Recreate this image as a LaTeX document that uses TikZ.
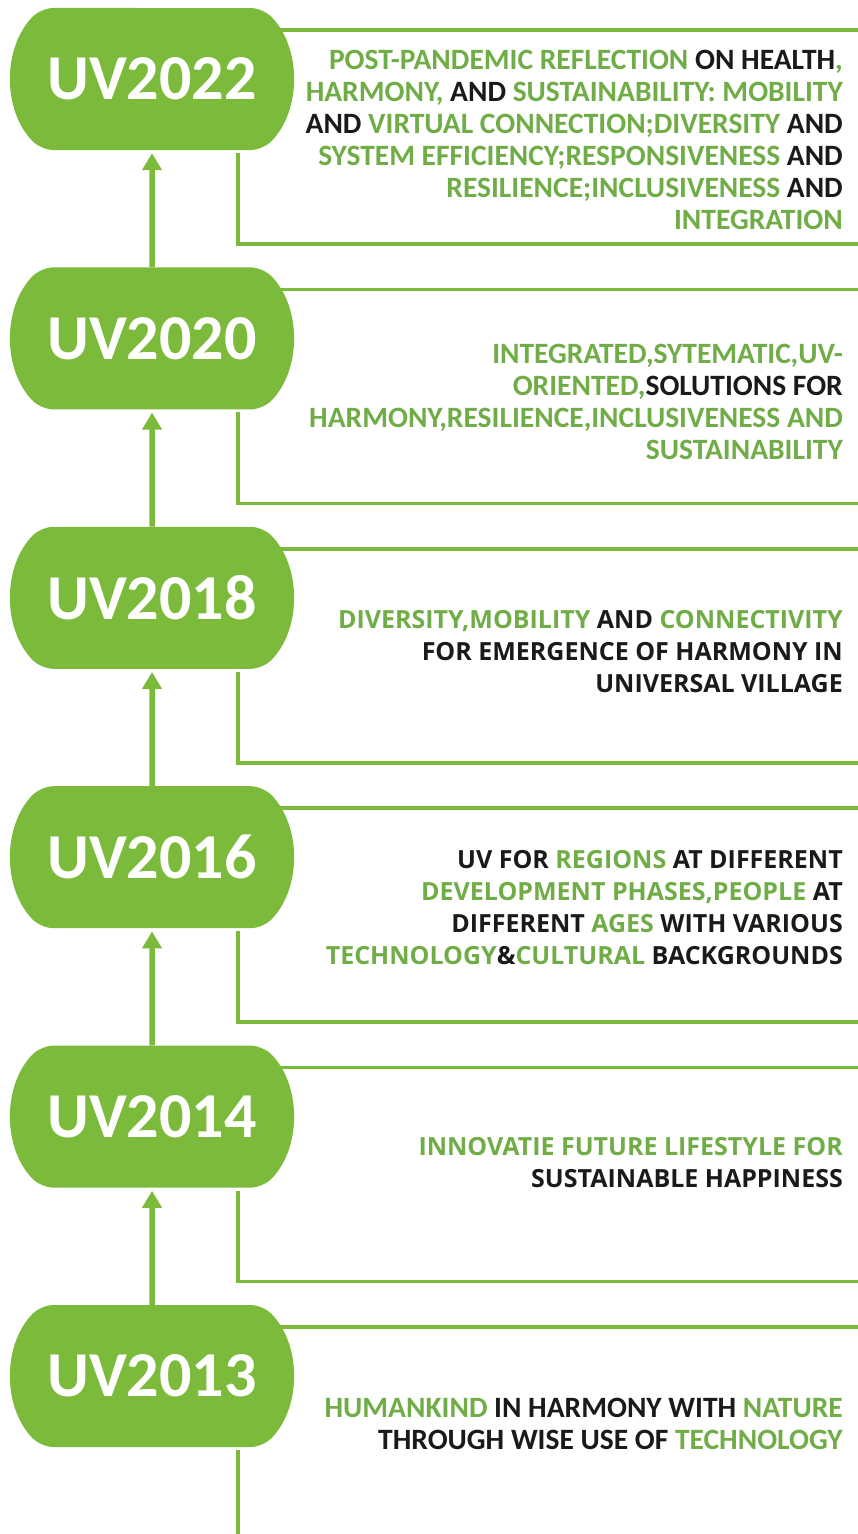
\documentclass[tikz,border=0pt]{standalone}
\usepackage{fontspec}
\usetikzlibrary{shapes.misc, arrows.meta}
\newfontfamily\uvcal{Carlito}
\newfontfamily\uvopen{Open Sans}
\definecolor{uvgreen}{HTML}{7BBA3A}
\definecolor{uvtext}{HTML}{70AD47}
\definecolor{uvblack}{HTML}{1A1A1A}
\newcommand{\grn}[1]{\textcolor{uvtext}{#1}}

\begin{document}
\begin{tikzpicture}[x=1pt, y=-1pt,
	year/.style = {rounded rectangle, rounded rectangle arc length=90, rounded corners=12pt,
		fill=uvgreen, text=white, minimum width=280pt, minimum height=142pt, inner sep=0pt,
		font=\uvcal\bfseries\fontsize{64}{64}\selectfont},
	panel/.style = {draw=uvgreen, line width=3.6pt},
	uparrow/.style = {draw=uvgreen, line width=5.5pt, shorten >=3pt,
		-{Triangle[width=19pt,length=17pt]}},
	caltext/.style = {anchor=east, align=right, text=uvblack, inner sep=0pt,
		font=\uvcal\bfseries\fontsize{29.5}{32}\selectfont},
	opentext/.style = {anchor=east, align=right, text=uvblack, inner sep=0pt,
		font=\uvopen\bfseries\fontsize{25}{32}\selectfont}]
		\useasboundingbox (0,0) rectangle (858,1534);
		\fill [white] (0,0) rectangle (858,1534);

		% brackets behind the year boxes
		\draw [panel] (270,30) -- (858,30);
		\draw [panel] (238,153) -- (238,244) -- (858,244);
		\draw [panel] (270,289.4) -- (858,289.4);
		\draw [panel] (238,412.4) -- (238,503.4) -- (858,503.4);
		\draw [panel] (270,548.8) -- (858,548.8);
		\draw [panel] (238,671.8) -- (238,762.8) -- (858,762.8);
		\draw [panel] (270,808.2) -- (858,808.2);
		\draw [panel] (238,931.2) -- (238,1022.2) -- (858,1022.2);
		\draw [panel] (270,1067.6) -- (858,1067.6);
		\draw [panel] (238,1190.6) -- (238,1281.6) -- (858,1281.6);
		\draw [panel] (270,1327) -- (858,1327);
		\draw [panel] (238,1450) -- (238,1534);

		\node (UV22) at (152,79) [year] {UV2022};
		\node (UV20) at (152,338.4) [year] {UV2020};
		\node (UV18) at (152,597.8) [year] {UV2018};
		\node (UV16) at (152,857.2) [year] {UV2016};
		\node (UV14) at (152,1116.6) [year] {UV2014};
		\node (UV13) at (152,1376) [year] {UV2013};

		\draw [uparrow] (UV20) -- (UV22);
		\draw [uparrow] (UV18) -- (UV20);
		\draw [uparrow] (UV16) -- (UV18);
		\draw [uparrow] (UV14) -- (UV16);
		\draw [uparrow] (UV13) -- (UV14);

		\node (T22) at (843,140) [caltext] {\grn{POST-PANDEMIC REFLECTION} ON HEALTH\grn{,}\\
			\grn{HARMONY,} AND \grn{SUSTAINABILITY: MOBILITY}\\
			AND \grn{VIRTUAL CONNECTION;DIVERSITY} AND\\
			\grn{SYSTEM EFFICIENCY;RESPONSIVENESS} AND\\
			\grn{RESILIENCE;INCLUSIVENESS} AND\\
			\grn{INTEGRATION}};
		\node (T20) at (843,402) [caltext] {\grn{INTEGRATED,SYTEMATIC,UV-}\\
			\grn{ORIENTED,}SOLUTIONS FOR\\
			\grn{HARMONY,RESILIENCE,INCLUSIVENESS AND}\\
			\grn{SUSTAINABILITY}};
		\node (T18) at (843,652) [opentext] {\grn{DIVERSITY,MOBILITY} AND \grn{CONNECTIVITY}\\
			FOR EMERGENCE OF HARMONY IN\\
			UNIVERSAL VILLAGE};
		\node (T16) at (843,908) [opentext] {UV FOR \grn{REGIONS} AT DIFFERENT\\
			\grn{DEVELOPMENT PHASES,PEOPLE} AT\\
			DIFFERENT \grn{AGES} WITH VARIOUS\\
			\grn{TECHNOLOGY}\&\grn{CULTURAL} BACKGROUNDS};
		\node (T14) at (843,1163) [opentext] {\grn{INNOVATIE FUTURE LIFESTYLE FOR}\\
			SUSTAINABLE HAPPINESS};
		\node (T13) at (843,1424) [caltext] {\grn{HUMANKIND} IN HARMONY WITH \grn{NATURE}\\
			THROUGH WISE USE OF \grn{TECHNOLOGY}};
\end{tikzpicture}
\end{document}
